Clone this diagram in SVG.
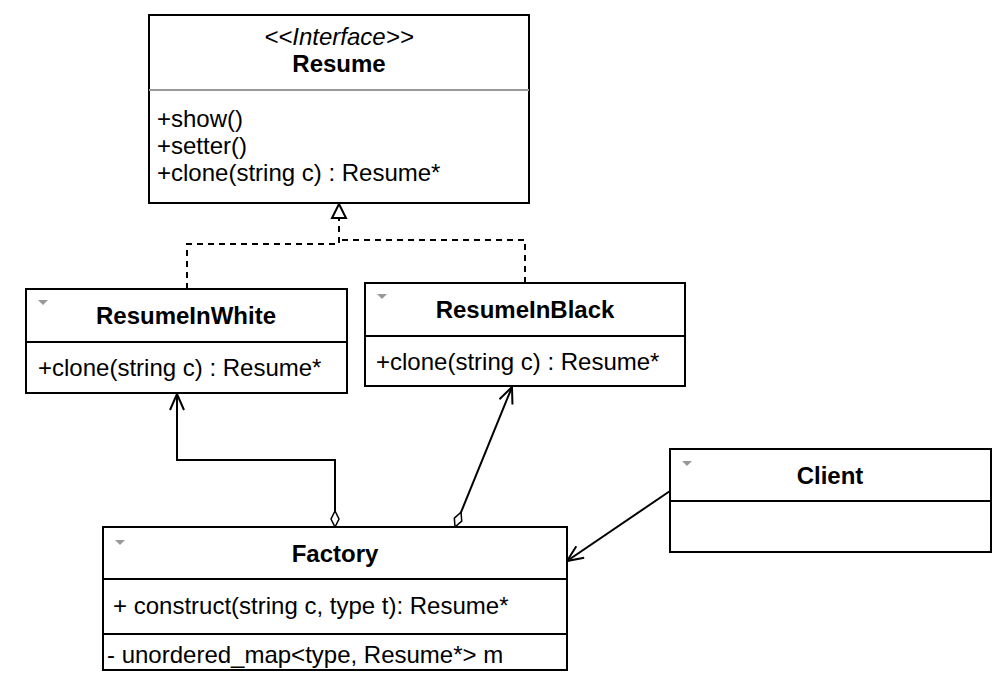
<svg xmlns="http://www.w3.org/2000/svg" width="1002" height="682" viewBox="0 0 1002 682">
<defs>
<style>
.box{fill:#fff;stroke:#000;stroke-width:2}
.sep{stroke:#000;stroke-width:2}
.gsep{stroke:#999;stroke-width:2}
.t{font-family:"Liberation Sans",Arial,sans-serif;font-size:24px;fill:#000}
.b{font-weight:bold;text-anchor:middle}
.i{font-style:italic;text-anchor:middle}
.tri{fill:#999}
.con{fill:none;stroke:#000;stroke-width:2}
.dash{stroke-dasharray:6,5}
</style>
<marker id="open" viewBox="0 0 20 20" refX="18" refY="10" markerWidth="20" markerHeight="20" markerUnits="userSpaceOnUse" orient="auto">
<path d="M2,3 L18,10 L2,17" fill="none" stroke="#000" stroke-width="2"/>
</marker>
<marker id="diam" viewBox="0 0 20 12" refX="1" refY="6" markerWidth="20" markerHeight="12" markerUnits="userSpaceOnUse" orient="auto">
<path d="M1,6 L9,2 L17,6 L9,10 Z" fill="#fff" stroke="#000" stroke-width="1.5"/>
</marker>
</defs>
<g id="connectors">
<path class="con dash" d="M187,289 V244 H339 V218"/>
<path class="con dash" d="M525,283 V240 H339"/>
<path d="M339,204 L346,218 L332,218 Z" fill="#fff" stroke="#000" stroke-width="2"/>
<path class="con" d="M335,527 V460 H177 V394" marker-start="url(#diam)" marker-end="url(#open)"/>
<path class="con" d="M455,527 L512,387" marker-start="url(#diam)" marker-end="url(#open)"/>
<path class="con" d="M670,491 L567,561" marker-end="url(#open)"/>
</g>
<g id="Resume">
<rect class="box" x="149" y="15" width="380" height="188"/>
<line class="gsep" x1="149" y1="90" x2="529" y2="90"/>
<text class="t i" x="339" y="45">&lt;&lt;Interface&gt;&gt;</text>
<text class="t b" x="339" y="72">Resume</text>
<text class="t" x="157" y="127">+show()</text>
<text class="t" x="157" y="154">+setter()</text>
<text class="t" x="157" y="181">+clone(string c) : Resume*</text>
</g>
<g id="ResumeInWhite">
<rect class="box" x="26" y="289" width="321" height="104"/>
<line class="sep" x1="26" y1="342" x2="347" y2="342"/>
<path class="tri" d="M38,300 H48 L43,305 Z"/>
<text class="t b" x="186" y="324">ResumeInWhite</text>
<text class="t" x="38" y="376">+clone(string c) : Resume*</text>
</g>
<g id="ResumeInBlack">
<rect class="box" x="365" y="283" width="320" height="103"/>
<line class="sep" x1="365" y1="336" x2="685" y2="336"/>
<path class="tri" d="M377,294 H387 L382,299 Z"/>
<text class="t b" x="525" y="318">ResumeInBlack</text>
<text class="t" x="376" y="370">+clone(string c) : Resume*</text>
</g>
<g id="Client">
<rect class="box" x="670" y="449" width="321" height="103"/>
<line class="sep" x1="670" y1="501" x2="991" y2="501"/>
<path class="tri" d="M682,461 H692 L687,466 Z"/>
<text class="t b" x="830" y="484">Client</text>
</g>
<g id="Factory">
<rect class="box" x="103" y="527" width="464" height="143"/>
<line class="sep" x1="103" y1="579" x2="567" y2="579"/>
<line class="sep" x1="103" y1="634" x2="567" y2="634"/>
<path class="tri" d="M115,540 H125 L120,545 Z"/>
<text class="t b" x="335" y="562">Factory</text>
<text class="t" x="113" y="614">+ construct(string c, type t): Resume*</text>
<text class="t" x="107" y="663">- unordered_map&lt;type, Resume*&gt; m</text>
</g>
</svg>
